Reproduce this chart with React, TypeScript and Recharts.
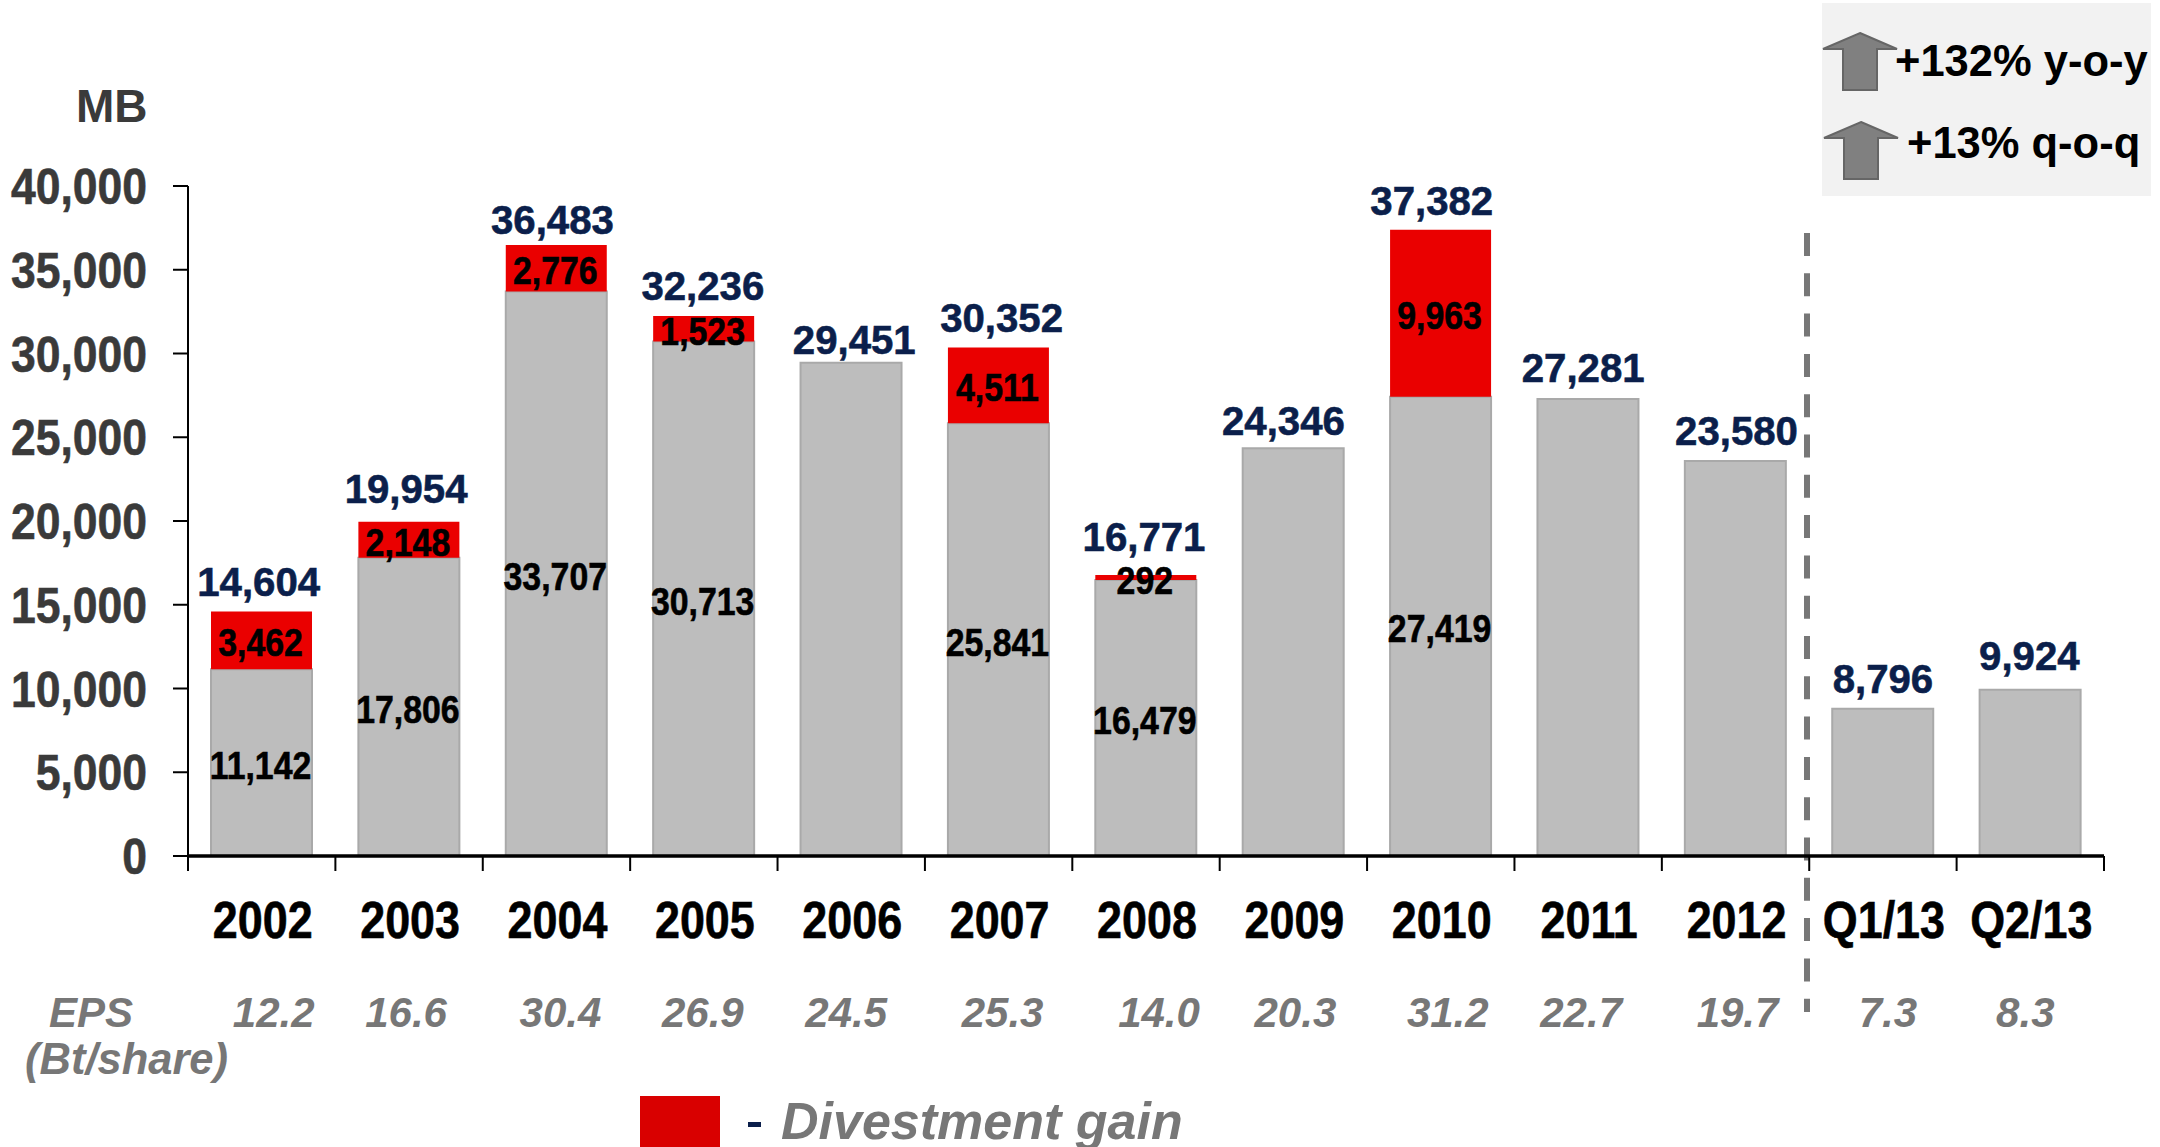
import React from 'react';
import { ComposedChart, Bar, Line, XAxis, YAxis, LabelList } from 'recharts';

const categories = ['2002', '2003', '2004', '2005', '2006', '2007', '2008', '2009', '2010', '2011', '2012', 'Q1/13', 'Q2/13'];
const coreProfit = [11142, 17806, 33707, 30713, 29451, 25841, 16479, 24346, 27419, 27281, 23580, 8796, 9924];
const divestmentGain = [3462, 2148, 2776, 1523, null, 4511, 292, null, 9963, null, null, null, null];
const totals = [14604, 19954, 36483, 32236, 29451, 30352, 16771, 24346, 37382, 27281, 23580, 8796, 9924];
const eps = ['12.2', '16.6', '30.4', '26.9', '24.5', '25.3', '14.0', '20.3', '31.2', '22.7', '19.7', '7.3', '8.3'];
const yTicks = [0, 5000, 10000, 15000, 20000, 25000, 30000, 35000, 40000];
// which bars carry a printed value inside the grey part
const coreLabelled = [true, true, true, true, false, true, true, false, true, false, false, false, false];

// the source slide places these by hand, so they sit a little off centre
const totalNudgeX = [-3, -3, -4, -1, 3, 3, -2, -10, -9, -5, 1, 0, -1];
const totalNudgeY = [-3, -7, 1, -4, 3, -4, -12, -1, -3, -5, -4, -4, -8];
const epsNudge = [12, -3, 4, -1, -5, 4, 13, 2, 7, -7, 2, 5, -5];

const WIDTH = 2160;
const HEIGHT = 1147;
const FONT = '"Liberation Sans", Arial, sans-serif';
const PLOT_LEFT = 188;
const PLOT_RIGHT = 2104;
const PLOT_TOP = 186;
const PLOT_BOTTOM = 856;
const BAND = (PLOT_RIGHT - PLOT_LEFT) / categories.length;

const rows = categories.map((name, i) => ({
  name,
  core: coreProfit[i],
  gain: divestmentGain[i],
  total: totals[i],
}));

const fmt = (v: number) => v.toLocaleString('en-US');

// Arial on the slide was squeezed horizontally, scale() gets closest to that
const Squeezed = ({ x, y, sx = 0.89, children, fill, ...rest }: any) => (
  <text
    transform={`translate(${x} ${y}) scale(${sx} 1)`}
    fontFamily={FONT}
    fontWeight="bold"
    textAnchor="middle"
    fill={fill}
    stroke={fill}
    strokeWidth={0.6}
    {...rest}
  >
    {children}
  </text>
);

const YTick = ({ y, payload }: any) => (
  <Squeezed x={147} y={y + 18} fontSize={50} sx={0.89} fill="#3a3a3a" textAnchor="end">
    {fmt(payload.value)}
  </Squeezed>
);

const XTick = ({ x, payload, index }: any) => {
  const i = index ?? payload.index;
  const left = x - BAND / 2;
  return (
    <g>
      <line x1={left} x2={left} y1={PLOT_BOTTOM} y2={PLOT_BOTTOM + 15} stroke="#000" strokeWidth={2} />
      {i === categories.length - 1 && (
        <line x1={x + BAND / 2} x2={x + BAND / 2} y1={PLOT_BOTTOM} y2={PLOT_BOTTOM + 15} stroke="#000" strokeWidth={2} />
      )}
      <Squeezed x={x + 1} y={938} fontSize={51} sx={0.88} fill="#000">
        {payload.value}
      </Squeezed>
      <text
        x={x + epsNudge[i]}
        y={1027}
        textAnchor="middle"
        fontFamily={FONT}
        fontSize={42}
        fontWeight="bold"
        fontStyle="italic"
        fill="#777777"
      >
        {eps[i]}
      </text>
    </g>
  );
};

const InsideLabel = ({ x, y, width, height, value, index, only }: any) => {
  if (value == null || (only && !only[index])) return null;
  return (
    <Squeezed x={x + width / 2 - 1} y={y + height / 2 + 16} fontSize={38} sx={0.89} fill="#000">
      {fmt(value)}
    </Squeezed>
  );
};

const TotalLabel = ({ x, y, value, index }: any) => (
  <Squeezed
    x={x + totalNudgeX[index]}
    y={y - 12 + totalNudgeY[index]}
    fontSize={41}
    sx={0.98}
    fill="#0b1f4b"
  >
    {fmt(value)}
  </Squeezed>
);

const UpArrow = ({ x, y }: { x: number; y: number }) => (
  <path
    d={`M${x} ${y} L${x + 37} ${y + 16} L${x + 17} ${y + 16} L${x + 17} ${y + 57} L${x - 17} ${y + 57} L${x - 17} ${y + 16} L${x - 37} ${y + 16} Z`}
    fill="#808080"
    stroke="#666666"
    strokeWidth={2}
  />
);

const Callout = () => (
  <g fontFamily={FONT} fontWeight="bold" fontSize={43.5} fill="#000">
    <rect x={1822} y={3} width={329} height={193} fill="#f2f2f2" />
    <UpArrow x={1860} y={33} />
    <UpArrow x={1861} y={122} />
    <text x={1895} y={76}>+132% y-o-y</text>
    <text x={1907} y={158}>+13% q-o-q</text>
  </g>
);

const Annotations = () => (
  <g>
    <text x={76} y={122} fontFamily={FONT} fontWeight="bold" fontSize={46} fill="#3a3a3a">MB</text>
    <line x1={1807} x2={1807} y1={233} y2={1012} stroke="#777777" strokeWidth={6} strokeDasharray="23 17.3" />
    <g fontFamily={FONT} fontWeight="bold" fontStyle="italic" fill="#777777">
      <text x={91} y={1027} textAnchor="middle" fontSize={42}>EPS</text>
      <text x={25} y={1074} fontSize={43.5}>(Bt/share)</text>
      <text x={781} y={1139} fontSize={52}>Divestment gain</text>
    </g>
    <rect x={640} y={1096} width={80} height={51} fill="#d90000" />
    <rect x={748} y={1122} width={13} height={5} fill="#0b1f4b" />
    <Callout />
  </g>
);

export default function App() {
  return (
    <div style={{ position: 'absolute', left: 0, top: 0, width: WIDTH, height: HEIGHT, background: '#fff' }}>
      <ComposedChart
        width={WIDTH}
        height={HEIGHT}
        data={rows}
        margin={{ top: PLOT_TOP, right: WIDTH - PLOT_RIGHT, bottom: 0, left: 0 }}
      >
        <XAxis
          dataKey="name"
          interval={0}
          height={HEIGHT - PLOT_BOTTOM}
          axisLine={{ stroke: '#000', strokeWidth: 3.5 }}
          tickLine={false}
          tick={<XTick />}
        />
        <YAxis
          width={PLOT_LEFT}
          domain={[0, 40000]}
          ticks={yTicks}
          interval={0}
          tickSize={15}
          axisLine={{ stroke: '#000', strokeWidth: 2 }}
          tickLine={{ stroke: '#000', strokeWidth: 2 }}
          tick={<YTick />}
        />
        <Bar dataKey="core" stackId="profit" barSize={101} fill="#bdbdbd" stroke="#a9a9a9" strokeWidth={2} isAnimationActive={false}>
          <LabelList dataKey="core" content={<InsideLabel only={coreLabelled} />} />
        </Bar>
        <Bar dataKey="gain" stackId="profit" barSize={101} fill="#ea0000" isAnimationActive={false}>
          <LabelList dataKey="gain" content={<InsideLabel />} />
        </Bar>
        <Line dataKey="total" stroke="none" dot={false} activeDot={false} isAnimationActive={false}>
          <LabelList dataKey="total" content={<TotalLabel />} />
        </Line>
        <Annotations />
      </ComposedChart>
    </div>
  );
}
